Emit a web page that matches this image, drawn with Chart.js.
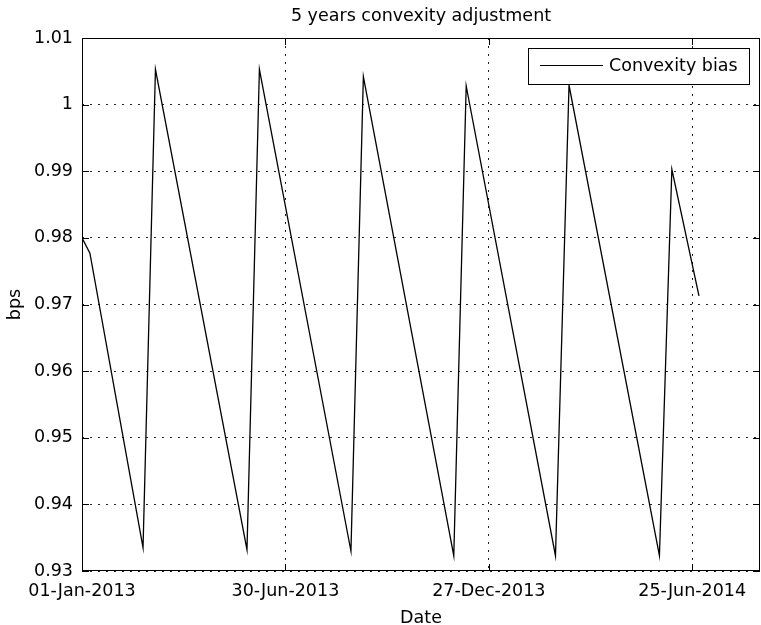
<!DOCTYPE html>
<html>
<head>
<meta charset="utf-8">
<script src="https://cdn.jsdelivr.net/npm/chart.js@4.4.1/dist/chart.umd.min.js"></script>
<style>
  html, body { margin: 0; padding: 0; background: #fff; }
  canvas { display: block; }
</style>
</head>
<body>
<canvas id="chart" width="761" height="625"></canvas>
<script>
// sample dates (corners of the sawtooth) and convexity bias in bps
const obsDates = [
  '2013-01-01', '2013-01-08', '2013-02-24', '2013-03-07',
  '2013-05-27', '2013-06-07', '2013-08-27', '2013-09-07',
  '2013-11-26', '2013-12-07', '2014-02-24', '2014-03-08',
  '2014-05-27', '2014-06-07', '2014-07-01',
]
const biasValues = [
  0.9800, 0.9777, 0.9335, 1.0053,
  0.9332, 1.0053, 0.9330, 1.0042,
  0.9323, 1.0028, 0.9323, 1.0029,
  0.9323, 0.9903, 0.9713,
]

const xTickDates = ['2013-01-01', '2013-06-30', '2013-12-27', '2014-06-25']
const xTickLabels = ['01-Jan-2013', '30-Jun-2013', '27-Dec-2013', '25-Jun-2014']
const xStart = '2013-01-01'
const xEnd = '2014-08-24'
const yMin = 0.93
const yMax = 1.01
const yStep = 0.01

const seriesLabel = 'Convexity bias'

// days since the first date, so a plain linear axis can be used
const dayOf = (s) => (Date.parse(s) - Date.parse(xStart)) / 86400000

const points = obsDates.map((d, i) => ({x: dayOf(d), y: biasValues[i]}))

Chart.defaults.font.family = "'DejaVu Sans', sans-serif"
Chart.defaults.font.size = 17.5
Chart.defaults.color = '#000'

// MATLAB style box, inward ticks and boxed legend
const matlabFrame = {
  id: 'matlabFrame',
  afterDraw(chart) {
    const {ctx, chartArea: a, scales: {x, y}} = chart
    ctx.save()
    ctx.strokeStyle = '#000'
    ctx.lineWidth = 1
    ctx.setLineDash([])
    ctx.strokeRect(a.left + 0.5, a.top + 0.5, a.right - a.left - 1, a.bottom - a.top - 1)

    const tl = 7
    ctx.beginPath()
    x.ticks.forEach(t => {
      const px = Math.round(x.getPixelForValue(t.value)) + 0.5
      ctx.moveTo(px, a.top); ctx.lineTo(px, a.top + tl)
      ctx.moveTo(px, a.bottom); ctx.lineTo(px, a.bottom - tl)
    })
    y.ticks.forEach(t => {
      const py = Math.round(y.getPixelForValue(t.value)) + 0.5
      ctx.moveTo(a.left, py); ctx.lineTo(a.left + tl, py)
      ctx.moveTo(a.right, py); ctx.lineTo(a.right - tl, py)
    })
    ctx.stroke()

    // legend
    const ds = chart.data.datasets[0]
    ctx.font = "17.5px 'DejaVu Sans', sans-serif"
    const textW = ctx.measureText(ds.label).width
    const boxW = 12 + 63 + 6 + textW + 11
    const boxH = 36
    const bx = Math.round(a.right - 11 - boxW)
    const by = a.top + 10
    ctx.fillStyle = '#fff'
    ctx.fillRect(bx, by, boxW, boxH)
    ctx.strokeRect(bx + 0.5, by + 0.5, Math.round(boxW), boxH)
    ctx.beginPath()
    ctx.moveTo(bx + 12, by + 17.5)
    ctx.lineTo(bx + 75, by + 17.5)
    ctx.strokeStyle = ds.borderColor
    ctx.stroke()
    ctx.fillStyle = '#000'
    ctx.textBaseline = 'middle'
    ctx.textAlign = 'left'
    ctx.fillText(ds.label, bx + 81, by + 18)
    ctx.restore()
  },
}

new Chart(document.getElementById('chart'), {
  type: 'line',
  data: {
    datasets: [
      {
        label: seriesLabel,
        data: points,
        borderColor: '#000',
        backgroundColor: '#000',
        borderWidth: 1.3,
        pointRadius: 0,
        tension: 0,
        fill: false,
      },
    ],
  },
  options: {
    responsive: false,
    animation: false,
    layout: {padding: {left: 0, right: 1, top: 0, bottom: 0}},
    plugins: {
      legend: {display: false},
      tooltip: {enabled: false},
      title: {
        display: true,
        text: '5 years convexity adjustment',
        fullSize: false,
        color: '#000',
        font: {size: 17.5, weight: 'normal'},
        padding: {top: 6, bottom: 11},
      },
    },
    scales: {
      x: {
        type: 'linear',
        min: 0,
        max: dayOf(xEnd),
        afterBuildTicks: (scale) => {
          scale.ticks = xTickDates.map(d => ({value: dayOf(d)}))
        },
        afterFit: (scale) => { scale.height = 54 },
        ticks: {
          autoSkip: false,
          maxRotation: 0,
          padding: 10,
          color: '#000',
          callback: (v, i) => xTickLabels[i],
        },
        grid: {color: '#222', lineWidth: 1, drawTicks: false},
        border: {display: false, dash: [2, 6]},
        title: {
          display: true,
          text: 'Date',
          color: '#000',
          padding: {top: 0, bottom: -4},
        },
      },
      y: {
        type: 'linear',
        min: yMin,
        max: yMax,
        afterFit: (scale) => { scale.width = 82 },
        ticks: {
          stepSize: yStep,
          padding: 9,
          color: '#000',
          callback: (v) => String(+v.toFixed(2)),
        },
        grid: {color: '#222', lineWidth: 1, drawTicks: false},
        border: {display: false, dash: [2, 6]},
        title: {
          display: true,
          text: 'bps',
          color: '#000',
          padding: {top: 4.5, bottom: 0},
        },
      },
    },
  },
  plugins: [matlabFrame],
})
</script>
</body>
</html>
